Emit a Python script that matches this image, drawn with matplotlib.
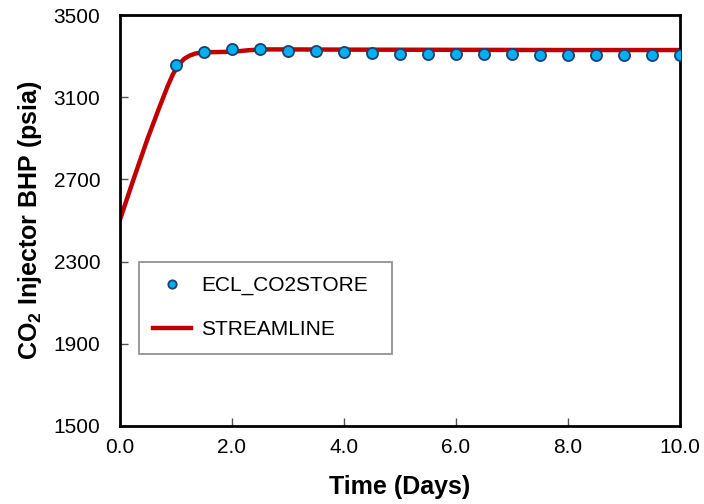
import matplotlib
matplotlib.use('Agg')
import matplotlib.pyplot as plt

plt.rcParams['font.family'] = ['Liberation Sans', 'DejaVu Sans']
plt.rcParams['mathtext.fontset'] = 'custom'
plt.rcParams['mathtext.rm'] = 'Liberation Sans'
plt.rcParams['mathtext.bf'] = 'Liberation Sans:bold'

# Données ECL_CO2STORE (points)
ecl_jours = [1.0, 1.5, 2.0, 2.5, 3.0, 3.5, 4.0, 4.5, 5.0, 5.5, 6.0, 6.5, 7.0, 7.5,
             8.0, 8.5, 9.0, 9.5, 10.0]
ecl_bhp = [3258, 3321, 3336, 3334, 3326, 3324, 3318, 3314, 3313, 3310, 3310, 3309, 3309,
           3308, 3308, 3306, 3305, 3305, 3304]

# Données STREAMLINE (courbe)
sl_jours = [0.0, 0.25, 0.5, 0.7, 0.85, 0.95, 1.05, 1.15, 1.25, 1.35, 1.5, 1.9, 2.1,
            2.3, 2.55, 3.0, 4.0, 6.0, 8.0, 10.0]
sl_bhp = [2500, 2703, 2900, 3045, 3150, 3212, 3258, 3287, 3303, 3313, 3319, 3321, 3324,
          3329, 3333, 3333, 3332, 3331, 3330, 3330]

fig = plt.figure(figsize=(7.04, 5.04), dpi=100)
ax = fig.add_axes([0.170, 0.155, 0.796, 0.815])

ax.plot(sl_jours, sl_bhp, color='#C00000', lw=3.2, label='STREAMLINE', zorder=2,
        solid_joinstyle='round')
ax.plot(ecl_jours, ecl_bhp, 'o', color='#00B0F0', mec='#1F3F6E', mew=1.3, ms=8,
        label='ECL_CO2STORE', zorder=3)

ax.set_xlim(0, 10)
ax.set_ylim(1500, 3500)
ax.set_xticks([0, 2, 4, 6, 8, 10])
ax.set_xticklabels(['0.0', '2.0', '4.0', '6.0', '8.0', '10.0'])
ax.set_yticks([1500, 1900, 2300, 2700, 3100, 3500])

for s in ax.spines.values():
    s.set_linewidth(2)
    s.set_color('black')

ax.tick_params(axis='both', direction='in', length=6, width=1, labelsize=15, color='#555555')
ax.tick_params(axis='x', pad=9)
ax.tick_params(axis='y', pad=14)

ax.set_xlabel('Time (Days)', fontsize=18, fontweight='bold', labelpad=13)
ax.set_ylabel(r'CO$_\mathbf{2}$ Injector BHP (psia)', fontsize=18, fontweight='bold', labelpad=7)

handles, labels = ax.get_legend_handles_labels()
leg = ax.legend(handles[::-1], labels[::-1], loc='upper left',
                bbox_to_anchor=(0.034, 0.173, 0.452, 0.227), mode='expand',
                borderaxespad=0, fontsize=15, frameon=True, fancybox=False,
                handlelength=1.8, handletextpad=0.5, labelspacing=1.2, borderpad=0.7,
                markerscale=0.75)
leg.get_frame().set_edgecolor('#777777')
leg.get_frame().set_linewidth(1.3)

fig.savefig('out.png', dpi=100)
